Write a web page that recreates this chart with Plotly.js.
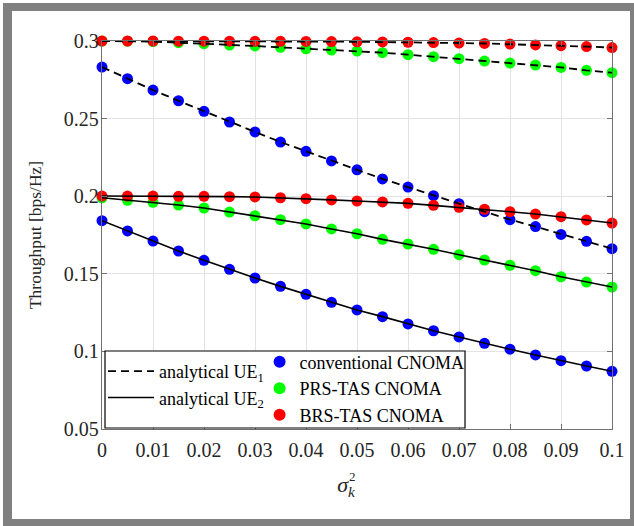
<!DOCTYPE html>
<html>
<head>
<meta charset="utf-8">
<script src="https://cdn.plot.ly/plotly-3.0.1.min.js"></script>
<style>
  html, body { margin: 0; padding: 0; background: #ffffff; }
  #wrap { position: relative; width: 634px; height: 526px; overflow: hidden; }
  #chart { position: absolute; left: 0; top: 0; width: 634px; height: 526px; }
  #frame { position: absolute; left: 3px; top: 3px; width: 631px; height: 523px; box-sizing: border-box;
           border-style: solid; border-color: #808080; border-width: 8px 4px 7px 9px; pointer-events: none; }
</style>
</head>
<body>
<div id="wrap"><div id="chart"></div><div id="frame"></div></div>
<script>
// ----- data -----
const sigma2 = [0, 0.005, 0.01, 0.015, 0.02, 0.025, 0.03, 0.035, 0.04, 0.045, 0.05,
                0.055, 0.06, 0.065, 0.07, 0.075, 0.08, 0.085, 0.09, 0.095, 0.1];

const convUE1 = [0.2832,0.2757,0.2684,0.2615,0.2547,0.2478,0.2414,0.2349,0.2289,0.2227,0.2170,
                 0.2111,0.2059,0.2003,0.1952,0.1900,0.1849,0.1804,0.1754,0.1709,0.1662];
const prsUE1  = [0.3000,0.2999,0.2996,0.2989,0.2983,0.2974,0.2968,0.2959,0.2950,0.2942,0.2935,
                 0.2925,0.2912,0.2899,0.2886,0.2871,0.2858,0.2845,0.2830,0.2811,0.2796];
const brsUE1  = [0.3000,0.3000,0.3000,0.2999,0.2999,0.2999,0.2998,0.2998,0.2997,0.2996,0.2995,
                 0.2994,0.2992,0.2990,0.2987,0.2984,0.2980,0.2975,0.2970,0.2964,0.2958];
const convUE2 = [0.1842,0.1776,0.1711,0.1647,0.1587,0.1529,0.1473,0.1419,0.1368,0.1316,0.1267,
                 0.1224,0.1177,0.1133,0.1093,0.1052,0.1014,0.0977,0.0940,0.0906,0.0872];
const prsUE2  = [0.1990,0.1974,0.1961,0.1943,0.1924,0.1898,0.1874,0.1849,0.1821,0.1789,0.1758,
                 0.1722,0.1692,0.1658,0.1623,0.1589,0.1555,0.1520,0.1481,0.1447,0.1415];
const brsUE2  = [0.2001,0.2001,0.2001,0.1999,0.1999,0.1997,0.1995,0.1990,0.1984,0.1976,0.1969,
                 0.1963,0.1954,0.1941,0.1928,0.1916,0.1900,0.1885,0.1868,0.1847,0.1827];

const xTickVals = [0,0.01,0.02,0.03,0.04,0.05,0.06,0.07,0.08,0.09,0.1];
const xTickText = ['0','0.01','0.02','0.03','0.04','0.05','0.06','0.07','0.08','0.09','0.1'];
const yTickVals = [0.05,0.1,0.15,0.2,0.25,0.3];
const yTickText = ['0.05','0.1','0.15','0.2','0.25','0.3'];

const schemes = [
  {name: 'conventional CNOMA', color: '#0000ff', ue1: convUE1, ue2: convUE2},
  {name: 'PRS-TAS CNOMA',      color: '#00ff00', ue1: prsUE1,  ue2: prsUE2},
  {name: 'BRS-TAS CNOMA',      color: '#ff0000', ue1: brsUE1,  ue2: brsUE2}
];

// ----- traces -----
const traces = [];
schemes.forEach(s => {
  traces.push({x: sigma2, y: s.ue1, mode: 'markers', name: s.name, legend: 'legend2',
    legendgroup: s.name, showlegend: true, cliponaxis: false,
    marker: {color: s.color, size: 11}});
  traces.push({x: sigma2, y: s.ue2, mode: 'markers', name: s.name, legend: 'legend2',
    legendgroup: s.name, showlegend: false, cliponaxis: false,
    marker: {color: s.color, size: 11}});
});
schemes.forEach((s, i) => {
  traces.push({x: sigma2, y: s.ue1, mode: 'lines', name: 'analytical UE<sub>1</sub>',
    legendgroup: 'ue1', showlegend: i === 0, cliponaxis: false,
    line: {color: '#000000', width: 1.8, dash: '8px,5px'}});
  traces.push({x: sigma2, y: s.ue2, mode: 'lines', name: 'analytical UE<sub>2</sub>',
    legendgroup: 'ue2', showlegend: i === 0, cliponaxis: false,
    line: {color: '#000000', width: 1.6}});
});

const serif = "'Liberation Serif', 'Times New Roman', serif";
const axisCommon = {
  showline: true, linecolor: '#707070', linewidth: 1.2, mirror: 'ticks',
  ticks: 'inside', ticklen: 5, tickcolor: '#707070', tickwidth: 1,
  showgrid: true, gridcolor: '#e3e3e3', gridwidth: 1, zeroline: false,
  tickfont: {family: serif, size: 20, color: '#262626'}
};

const layout = {
  width: 634, height: 526,
  margin: {l: 102, r: 22, t: 41, b: 97},
  paper_bgcolor: '#ffffff', plot_bgcolor: '#ffffff',
  font: {family: serif, color: '#262626'},
  xaxis: Object.assign({}, axisCommon, {
    range: [0, 0.1], tickmode: 'array', tickvals: xTickVals, ticktext: xTickText,
    ticklabelstandoff: 3,
    title: {text: '<i>σ</i><sub><i>k</i></sub>&nbsp;&nbsp;&nbsp;&nbsp;', font: {family: serif, size: 22, color: '#262626'}, standoff: 16}
  }),
  yaxis: Object.assign({}, axisCommon, {
    range: [0.05, 0.3], tickmode: 'array', tickvals: yTickVals, ticktext: yTickText,
    ticklabelstandoff: -2,
    title: {text: 'Throughput [bps/Hz]', font: {family: serif, size: 17.5, color: '#262626'}, standoff: 17}
  }),
  showlegend: true,
  legend: {x: 0.002, y: 0.115, xanchor: 'left', yanchor: 'middle', bgcolor: 'rgba(0,0,0,0)',
           borderwidth: 0, itemwidth: 46, font: {family: serif, size: 18, color: '#000000'},
           traceorder: 'normal', itemclick: false},
  legend2: {x: 0.309, y: 0.104, xanchor: 'left', yanchor: 'middle', bgcolor: 'rgba(0,0,0,0)',
            borderwidth: 0, itemsizing: 'constant', font: {family: serif, size: 18, color: '#000000'},
            traceorder: 'normal', itemclick: false},
  shapes: [{type: 'rect', xref: 'paper', yref: 'paper', x0: 0.0059, x1: 0.7118, y0: 0.0026, y1: 0.201,
            line: {color: '#000000', width: 1.2}, fillcolor: '#ffffff', layer: 'above'}],
  annotations: [{text: '2', xref: 'paper', yref: 'paper', x: (352 - 102) / 510, y: (429 - 476) / 388,
                 showarrow: false, xanchor: 'center', yanchor: 'middle',
                 font: {family: serif, size: 13, color: '#262626'}}]
};

Plotly.newPlot('chart', traces, layout, {staticPlot: true});
</script>
</body>
</html>
